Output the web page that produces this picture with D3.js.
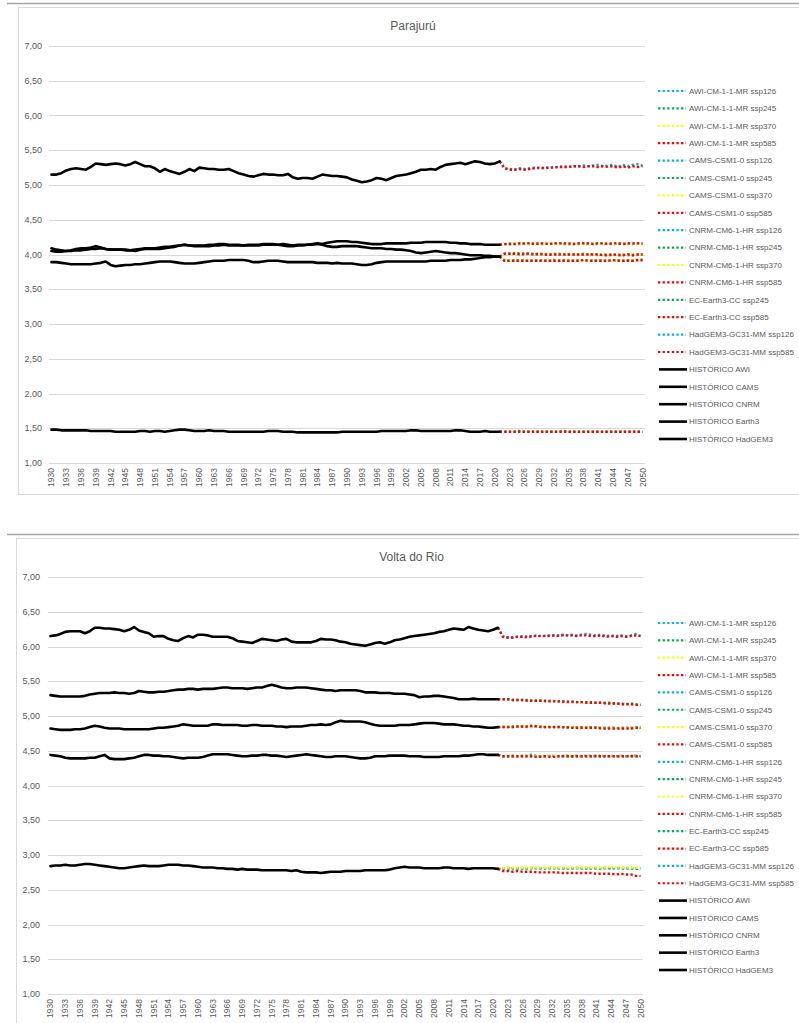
<!DOCTYPE html>
<html>
<head>
<meta charset="utf-8">
<script src="https://cdn.jsdelivr.net/npm/d3@7"></script>
<style>
  body { margin: 0; background: #fff; }
  svg { display: block; }
  text { font-family: "Liberation Sans", Arial, sans-serif; }
</style>
</head>
<body>
<svg id="chart" width="799" height="1023"></svg>
<script>
// ---------- categories & axis ----------
const FIRST_YEAR = 1930, LAST_HIST_YEAR = 2021, LAST_YEAR = 2050;
const years = d3.range(FIRST_YEAR, LAST_YEAR + 1);
const histYears = d3.range(FIRST_YEAR, LAST_HIST_YEAR + 1);
const projYears = d3.range(LAST_HIST_YEAR, LAST_YEAR + 1);
const yTicks = [1.0, 1.5, 2.0, 2.5, 3.0, 3.5, 4.0, 4.5, 5.0, 5.5, 6.0, 6.5, 7.0];
const xTickYears = years.filter((y, i) => i % 3 === 0);

const scenarioColors = { ssp126: "#00B0F0", ssp245: "#00B050", ssp370: "#FFFF00", ssp585: "#FF0000" };

// projected series, in legend order: [model, scenario, key]
const projectionKeys = [
  ["AWI-CM-1-1-MR", "ssp126", "AWI"], ["AWI-CM-1-1-MR", "ssp245", "AWI"],
  ["AWI-CM-1-1-MR", "ssp370", "AWI"], ["AWI-CM-1-1-MR", "ssp585", "AWI"],
  ["CAMS-CSM1-0", "ssp126", "CAMS"], ["CAMS-CSM1-0", "ssp245", "CAMS"],
  ["CAMS-CSM1-0", "ssp370", "CAMS"], ["CAMS-CSM1-0", "ssp585", "CAMS"],
  ["CNRM-CM6-1-HR", "ssp126", "CNRM"], ["CNRM-CM6-1-HR", "ssp245", "CNRM"],
  ["CNRM-CM6-1-HR", "ssp370", "CNRM"], ["CNRM-CM6-1-HR", "ssp585", "CNRM"],
  ["EC-Earth3-CC", "ssp245", "Earth3"], ["EC-Earth3-CC", "ssp585", "Earth3"],
  ["HadGEM3-GC31-MM", "ssp126", "HadGEM3"], ["HadGEM3-GC31-MM", "ssp585", "HadGEM3"]
];
const historicKeys = ["AWI", "CAMS", "CNRM", "Earth3", "HadGEM3"];

// ---------- Parajurú : historical (1930-2021) ----------
const parajuruHistAWI = [
  4.05, 4.04, 4.04, 4.05, 4.05, 4.06, 4.06, 4.07, 4.08, 4.08,
  4.09, 4.08, 4.07, 4.07, 4.07, 4.07, 4.06, 4.07, 4.08, 4.09,
  4.09, 4.09, 4.10, 4.11, 4.11, 4.12, 4.13, 4.14, 4.13, 4.13,
  4.13, 4.13, 4.14, 4.14, 4.15, 4.15, 4.14, 4.14, 4.14, 4.13,
  4.14, 4.14, 4.14, 4.15, 4.15, 4.15, 4.14, 4.13, 4.12, 4.12,
  4.13, 4.13, 4.14, 4.15, 4.16, 4.15, 4.17, 4.18, 4.19, 4.19,
  4.19, 4.18, 4.18, 4.17, 4.16, 4.15, 4.15, 4.15, 4.16, 4.16,
  4.16, 4.16, 4.16, 4.17, 4.17, 4.17, 4.18, 4.18, 4.18, 4.18,
  4.18, 4.17, 4.17, 4.16, 4.16, 4.15, 4.15, 4.15, 4.14, 4.14,
  4.14, 4.14];
const parajuruHistCAMS = [
  4.09, 4.07, 4.06, 4.05, 4.06, 4.08, 4.09, 4.09, 4.10, 4.12,
  4.10, 4.08, 4.07, 4.07, 4.07, 4.06, 4.06, 4.05, 4.07, 4.08,
  4.08, 4.08, 4.08, 4.09, 4.10, 4.11, 4.13, 4.14, 4.13, 4.12,
  4.12, 4.12, 4.12, 4.13, 4.13, 4.14, 4.13, 4.13, 4.13, 4.13,
  4.13, 4.13, 4.13, 4.14, 4.14, 4.14, 4.14, 4.15, 4.14, 4.13,
  4.14, 4.14, 4.14, 4.14, 4.15, 4.14, 4.12, 4.11, 4.11, 4.12,
  4.12, 4.12, 4.12, 4.11, 4.10, 4.09, 4.09, 4.09, 4.08, 4.08,
  4.07, 4.07, 4.06, 4.05, 4.03, 4.02, 4.03, 4.04, 4.05, 4.04,
  4.03, 4.02, 4.02, 4.01, 4.00, 3.99, 3.99, 3.99, 3.98, 3.98,
  3.97, 3.97];
const parajuruHistCNRM = [
  3.89, 3.89, 3.88, 3.87, 3.86, 3.86, 3.86, 3.86, 3.86, 3.87,
  3.88, 3.90, 3.85, 3.83, 3.84, 3.85, 3.85, 3.86, 3.86, 3.87,
  3.88, 3.89, 3.90, 3.90, 3.90, 3.89, 3.88, 3.87, 3.87, 3.87,
  3.88, 3.89, 3.90, 3.91, 3.91, 3.91, 3.92, 3.92, 3.92, 3.92,
  3.91, 3.89, 3.89, 3.90, 3.91, 3.91, 3.91, 3.90, 3.89, 3.89,
  3.89, 3.89, 3.89, 3.89, 3.88, 3.88, 3.88, 3.87, 3.88, 3.87,
  3.87, 3.87, 3.86, 3.85, 3.85, 3.86, 3.88, 3.89, 3.90, 3.90,
  3.90, 3.90, 3.90, 3.90, 3.90, 3.90, 3.90, 3.91, 3.91, 3.91,
  3.91, 3.92, 3.92, 3.92, 3.93, 3.93, 3.94, 3.95, 3.96, 3.96,
  3.97, 3.97];
const parajuruHistEarth3 = [
  1.48, 1.48, 1.47, 1.47, 1.47, 1.47, 1.47, 1.47, 1.46, 1.46,
  1.46, 1.46, 1.46, 1.45, 1.45, 1.45, 1.45, 1.45, 1.46, 1.46,
  1.45, 1.46, 1.46, 1.45, 1.46, 1.47, 1.48, 1.48, 1.47, 1.46,
  1.46, 1.46, 1.47, 1.46, 1.46, 1.46, 1.45, 1.45, 1.45, 1.45,
  1.45, 1.45, 1.45, 1.45, 1.46, 1.46, 1.46, 1.45, 1.45, 1.45,
  1.44, 1.44, 1.44, 1.44, 1.44, 1.44, 1.44, 1.44, 1.44, 1.45,
  1.45, 1.45, 1.45, 1.45, 1.45, 1.45, 1.45, 1.46, 1.46, 1.46,
  1.46, 1.46, 1.46, 1.47, 1.47, 1.46, 1.46, 1.46, 1.46, 1.46,
  1.46, 1.46, 1.47, 1.47, 1.46, 1.45, 1.45, 1.45, 1.46, 1.45,
  1.45, 1.45];
const parajuruHistHadGEM3 = [
  5.15, 5.15, 5.17, 5.21, 5.23, 5.24, 5.23, 5.22, 5.26, 5.31,
  5.30, 5.29, 5.30, 5.31, 5.30, 5.28, 5.30, 5.33, 5.30, 5.27,
  5.27, 5.24, 5.19, 5.23, 5.20, 5.18, 5.16, 5.19, 5.23, 5.20,
  5.25, 5.24, 5.23, 5.23, 5.22, 5.22, 5.23, 5.20, 5.17, 5.15,
  5.13, 5.12, 5.14, 5.16, 5.15, 5.15, 5.14, 5.14, 5.16, 5.11,
  5.09, 5.10, 5.10, 5.09, 5.12, 5.15, 5.14, 5.13, 5.13, 5.12,
  5.11, 5.08, 5.06, 5.04, 5.05, 5.07, 5.10, 5.09, 5.07, 5.10,
  5.13, 5.14, 5.15, 5.17, 5.19, 5.22, 5.22, 5.23, 5.22, 5.26,
  5.29, 5.30, 5.31, 5.32, 5.30, 5.32, 5.34, 5.33, 5.31, 5.30,
  5.31, 5.34];

// ---------- Parajurú : projections (2021-2050) ----------
const parajuruAWI126 = [4.14, 4.15, 4.16, 4.15, 4.15, 4.16, 4.15, 4.16, 4.15, 4.15, 4.16, 4.15, 4.16, 4.15, 4.15, 4.16, 4.15, 4.16, 4.16, 4.15, 4.15, 4.16, 4.15, 4.15, 4.16, 4.15, 4.16, 4.15, 4.16, 4.16];
const parajuruAWI245 = [4.14, 4.15, 4.15, 4.16, 4.16, 4.15, 4.16, 4.16, 4.15, 4.16, 4.15, 4.16, 4.16, 4.16, 4.15, 4.15, 4.16, 4.16, 4.15, 4.16, 4.16, 4.15, 4.16, 4.16, 4.15, 4.16, 4.15, 4.16, 4.16, 4.15];
const parajuruAWI370 = [4.14, 4.16, 4.15, 4.16, 4.16, 4.16, 4.15, 4.16, 4.16, 4.16, 4.16, 4.16, 4.15, 4.16, 4.16, 4.16, 4.16, 4.15, 4.16, 4.16, 4.15, 4.16, 4.16, 4.15, 4.16, 4.16, 4.16, 4.16, 4.15, 4.16];
const parajuruAWI585 = [4.14, 4.15, 4.15, 4.15, 4.16, 4.16, 4.16, 4.15, 4.16, 4.16, 4.15, 4.16, 4.16, 4.16, 4.16, 4.15, 4.16, 4.16, 4.16, 4.15, 4.16, 4.16, 4.15, 4.16, 4.16, 4.15, 4.16, 4.16, 4.16, 4.16];
const parajuruCAMS126 = [3.97, 4.01, 4.01, 4.01, 4.01, 4.00, 4.01, 4.01, 4.00, 4.01, 4.00, 4.00, 4.01, 4.00, 4.00, 4.00, 4.00, 4.01, 4.00, 4.00, 4.00, 4.00, 3.99, 4.00, 3.99, 4.00, 3.99, 4.00, 4.00, 4.00];
const parajuruCAMS245 = [3.97, 4.01, 4.01, 4.01, 4.00, 4.01, 4.01, 4.00, 4.01, 4.00, 4.00, 4.01, 4.00, 4.00, 4.00, 4.00, 4.00, 4.00, 4.00, 4.00, 3.99, 4.00, 4.00, 3.99, 4.00, 3.99, 4.00, 3.99, 4.00, 4.00];
const parajuruCAMS370 = [3.97, 4.01, 4.01, 4.00, 4.01, 4.01, 4.00, 4.01, 4.00, 4.00, 4.01, 4.00, 4.00, 4.00, 4.00, 4.00, 4.00, 4.00, 4.00, 3.99, 4.00, 4.00, 3.99, 4.00, 3.99, 4.00, 3.99, 4.00, 4.00, 4.00];
const parajuruCAMS585 = [3.97, 4.01, 4.01, 4.01, 4.01, 4.01, 4.01, 4.00, 4.01, 4.00, 4.00, 4.00, 4.00, 4.00, 4.00, 4.00, 4.00, 4.00, 4.00, 4.00, 4.00, 3.99, 3.99, 4.00, 3.99, 3.99, 4.00, 3.99, 4.00, 4.00];
const parajuruCNRM126 = [3.97, 3.92, 3.91, 3.91, 3.91, 3.91, 3.91, 3.91, 3.92, 3.91, 3.91, 3.91, 3.91, 3.92, 3.91, 3.91, 3.91, 3.91, 3.91, 3.91, 3.92, 3.91, 3.91, 3.91, 3.91, 3.91, 3.92, 3.91, 3.91, 3.92];
const parajuruCNRM245 = [3.97, 3.91, 3.91, 3.91, 3.91, 3.92, 3.91, 3.91, 3.91, 3.91, 3.91, 3.92, 3.91, 3.91, 3.91, 3.91, 3.91, 3.91, 3.92, 3.91, 3.91, 3.91, 3.91, 3.91, 3.92, 3.91, 3.91, 3.91, 3.92, 3.92];
const parajuruCNRM370 = [3.97, 3.92, 3.92, 3.91, 3.91, 3.91, 3.92, 3.91, 3.91, 3.91, 3.92, 3.91, 3.91, 3.91, 3.92, 3.92, 3.91, 3.91, 3.91, 3.92, 3.91, 3.92, 3.92, 3.91, 3.91, 3.92, 3.91, 3.92, 3.91, 3.92];
const parajuruCNRM585 = [3.97, 3.91, 3.91, 3.91, 3.91, 3.91, 3.91, 3.91, 3.91, 3.91, 3.91, 3.91, 3.91, 3.91, 3.91, 3.91, 3.91, 3.92, 3.91, 3.91, 3.91, 3.91, 3.91, 3.92, 3.91, 3.91, 3.91, 3.91, 3.92, 3.92];
const parajuruEarth3245 = [1.45, 1.45, 1.45, 1.45, 1.46, 1.45, 1.45, 1.45, 1.45, 1.45, 1.45, 1.45, 1.45, 1.46, 1.45, 1.45, 1.45, 1.45, 1.45, 1.45, 1.45, 1.45, 1.45, 1.45, 1.45, 1.45, 1.45, 1.45, 1.45, 1.45];
const parajuruEarth3585 = [1.45, 1.45, 1.45, 1.45, 1.45, 1.45, 1.45, 1.45, 1.45, 1.45, 1.45, 1.45, 1.45, 1.45, 1.45, 1.45, 1.45, 1.45, 1.45, 1.45, 1.45, 1.45, 1.45, 1.45, 1.45, 1.45, 1.45, 1.45, 1.45, 1.45];
const parajuruHadGEM3126 = [5.34, 5.24, 5.23, 5.22, 5.24, 5.23, 5.24, 5.25, 5.24, 5.25, 5.25, 5.26, 5.26, 5.27, 5.26, 5.27, 5.27, 5.28, 5.27, 5.28, 5.29, 5.27, 5.28, 5.29, 5.26, 5.29, 5.27, 5.29, 5.30, 5.28];
const parajuruHadGEM3585 = [5.34, 5.24, 5.22, 5.22, 5.23, 5.22, 5.23, 5.24, 5.25, 5.24, 5.25, 5.25, 5.26, 5.26, 5.26, 5.27, 5.27, 5.26, 5.27, 5.27, 5.26, 5.27, 5.26, 5.27, 5.25, 5.27, 5.25, 5.27, 5.26, 5.27];

// ---------- Volta do Rio : historical (1930-2021) ----------
const voltaHistAWI = [
  4.82, 4.81, 4.80, 4.80, 4.80, 4.81, 4.81, 4.82, 4.84, 4.86,
  4.85, 4.83, 4.82, 4.82, 4.82, 4.81, 4.81, 4.81, 4.81, 4.81,
  4.81, 4.82, 4.83, 4.83, 4.84, 4.85, 4.86, 4.88, 4.87, 4.86,
  4.86, 4.86, 4.86, 4.88, 4.88, 4.87, 4.87, 4.87, 4.87, 4.86,
  4.86, 4.87, 4.87, 4.86, 4.86, 4.86, 4.85, 4.85, 4.84, 4.85,
  4.85, 4.85, 4.86, 4.87, 4.87, 4.88, 4.87, 4.88, 4.91, 4.93,
  4.92, 4.92, 4.92, 4.92, 4.91, 4.89, 4.87, 4.86, 4.86, 4.86,
  4.86, 4.87, 4.87, 4.87, 4.88, 4.89, 4.90, 4.90, 4.90, 4.89,
  4.88, 4.88, 4.88, 4.87, 4.86, 4.86, 4.85, 4.85, 4.84, 4.83,
  4.83, 4.84];
const voltaHistCAMS = [
  2.84, 2.85, 2.85, 2.86, 2.85, 2.85, 2.86, 2.87, 2.87, 2.86,
  2.85, 2.84, 2.83, 2.82, 2.81, 2.81, 2.82, 2.83, 2.84, 2.85,
  2.84, 2.84, 2.84, 2.85, 2.86, 2.86, 2.86, 2.85, 2.85, 2.84,
  2.83, 2.82, 2.82, 2.82, 2.81, 2.81, 2.80, 2.80, 2.79, 2.80,
  2.79, 2.79, 2.79, 2.78, 2.78, 2.78, 2.78, 2.78, 2.78, 2.77,
  2.78, 2.76, 2.75, 2.75, 2.75, 2.74, 2.75, 2.76, 2.76, 2.76,
  2.77, 2.77, 2.77, 2.77, 2.78, 2.78, 2.78, 2.78, 2.78, 2.79,
  2.81, 2.82, 2.83, 2.82, 2.82, 2.82, 2.81, 2.81, 2.81, 2.81,
  2.82, 2.82, 2.81, 2.81, 2.81, 2.80, 2.81, 2.81, 2.81, 2.81,
  2.81, 2.80];
const voltaHistCNRM = [
  4.44, 4.43, 4.42, 4.40, 4.39, 4.39, 4.39, 4.39, 4.40, 4.40,
  4.42, 4.44, 4.39, 4.38, 4.38, 4.38, 4.39, 4.40, 4.42, 4.44,
  4.44, 4.43, 4.43, 4.42, 4.42, 4.41, 4.40, 4.39, 4.40, 4.40,
  4.40, 4.41, 4.43, 4.45, 4.45, 4.45, 4.45, 4.44, 4.43, 4.42,
  4.42, 4.43, 4.43, 4.44, 4.44, 4.43, 4.43, 4.42, 4.41, 4.42,
  4.43, 4.44, 4.45, 4.44, 4.43, 4.42, 4.41, 4.41, 4.42, 4.42,
  4.42, 4.41, 4.40, 4.39, 4.39, 4.40, 4.42, 4.42, 4.42, 4.43,
  4.43, 4.43, 4.43, 4.42, 4.42, 4.42, 4.41, 4.41, 4.41, 4.41,
  4.42, 4.42, 4.42, 4.42, 4.43, 4.43, 4.44, 4.45, 4.45, 4.44,
  4.44, 4.44];
const voltaHistEarth3 = [
  5.30, 5.29, 5.28, 5.28, 5.28, 5.28, 5.28, 5.29, 5.31, 5.32,
  5.33, 5.33, 5.33, 5.34, 5.33, 5.33, 5.32, 5.33, 5.36, 5.35,
  5.34, 5.34, 5.35, 5.35, 5.36, 5.37, 5.38, 5.38, 5.39, 5.39,
  5.38, 5.39, 5.39, 5.39, 5.40, 5.41, 5.41, 5.40, 5.40, 5.40,
  5.39, 5.40, 5.41, 5.41, 5.43, 5.45, 5.43, 5.41, 5.40, 5.40,
  5.41, 5.41, 5.41, 5.40, 5.39, 5.38, 5.37, 5.37, 5.36, 5.37,
  5.37, 5.37, 5.37, 5.36, 5.34, 5.34, 5.34, 5.33, 5.33, 5.33,
  5.32, 5.32, 5.32, 5.31, 5.30, 5.27, 5.28, 5.28, 5.29, 5.29,
  5.28, 5.27, 5.26, 5.24, 5.24, 5.24, 5.25, 5.24, 5.24, 5.24,
  5.24, 5.24];
const voltaHistHadGEM3 = [
  6.15, 6.16, 6.18, 6.21, 6.22, 6.22, 6.22, 6.19, 6.22, 6.27,
  6.27, 6.26, 6.26, 6.25, 6.24, 6.22, 6.24, 6.28, 6.23, 6.21,
  6.19, 6.14, 6.15, 6.15, 6.11, 6.09, 6.08, 6.12, 6.15, 6.13,
  6.17, 6.17, 6.16, 6.14, 6.14, 6.14, 6.14, 6.12, 6.08, 6.07,
  6.06, 6.05, 6.08, 6.11, 6.10, 6.09, 6.08, 6.10, 6.11, 6.07,
  6.06, 6.06, 6.06, 6.06, 6.08, 6.11, 6.10, 6.10, 6.09, 6.07,
  6.06, 6.04, 6.03, 6.02, 6.01, 6.03, 6.05, 6.06, 6.04, 6.06,
  6.09, 6.10, 6.12, 6.14, 6.15, 6.16, 6.17, 6.18, 6.19, 6.21,
  6.22, 6.24, 6.26, 6.25, 6.24, 6.28, 6.26, 6.24, 6.23, 6.22,
  6.24, 6.27];

// ---------- Volta do Rio : projections (2021-2050) ----------
const voltaAWI126 = [4.84, 4.84, 4.85, 4.84, 4.85, 4.85, 4.84, 4.85, 4.85, 4.84, 4.84, 4.84, 4.85, 4.84, 4.84, 4.84, 4.83, 4.84, 4.84, 4.83, 4.84, 4.83, 4.83, 4.83, 4.82, 4.83, 4.83, 4.83, 4.83, 4.83];
const voltaAWI245 = [4.84, 4.85, 4.84, 4.85, 4.85, 4.85, 4.85, 4.84, 4.85, 4.84, 4.85, 4.84, 4.84, 4.84, 4.83, 4.84, 4.84, 4.83, 4.83, 4.84, 4.83, 4.83, 4.82, 4.83, 4.83, 4.82, 4.83, 4.82, 4.83, 4.83];
const voltaAWI370 = [4.84, 4.85, 4.85, 4.84, 4.85, 4.86, 4.85, 4.85, 4.85, 4.85, 4.85, 4.84, 4.84, 4.84, 4.84, 4.84, 4.84, 4.83, 4.84, 4.83, 4.83, 4.83, 4.82, 4.83, 4.82, 4.82, 4.83, 4.82, 4.83, 4.83];
const voltaAWI585 = [4.84, 4.84, 4.84, 4.84, 4.85, 4.85, 4.85, 4.86, 4.85, 4.84, 4.84, 4.84, 4.84, 4.84, 4.84, 4.83, 4.83, 4.83, 4.83, 4.83, 4.83, 4.82, 4.82, 4.82, 4.82, 4.82, 4.82, 4.82, 4.83, 4.83];
const voltaCAMS126 = [2.80, 2.81, 2.81, 2.81, 2.81, 2.81, 2.81, 2.82, 2.81, 2.81, 2.81, 2.82, 2.81, 2.81, 2.81, 2.81, 2.82, 2.81, 2.81, 2.81, 2.81, 2.81, 2.82, 2.81, 2.81, 2.81, 2.81, 2.81, 2.81, 2.81];
const voltaCAMS245 = [2.80, 2.80, 2.81, 2.81, 2.81, 2.81, 2.81, 2.81, 2.81, 2.81, 2.81, 2.81, 2.81, 2.81, 2.81, 2.81, 2.81, 2.81, 2.81, 2.81, 2.81, 2.81, 2.81, 2.81, 2.82, 2.81, 2.81, 2.81, 2.80, 2.80];
const voltaCAMS370 = [2.80, 2.81, 2.82, 2.82, 2.82, 2.82, 2.82, 2.82, 2.82, 2.82, 2.82, 2.82, 2.82, 2.82, 2.82, 2.82, 2.82, 2.82, 2.82, 2.82, 2.82, 2.82, 2.82, 2.83, 2.82, 2.82, 2.82, 2.82, 2.82, 2.81];
const voltaCAMS585 = [2.80, 2.77, 2.77, 2.76, 2.77, 2.76, 2.76, 2.76, 2.75, 2.75, 2.75, 2.75, 2.75, 2.74, 2.74, 2.74, 2.74, 2.74, 2.74, 2.74, 2.73, 2.73, 2.73, 2.73, 2.72, 2.73, 2.72, 2.72, 2.70, 2.70];
const voltaCNRM126 = [4.44, 4.42, 4.42, 4.43, 4.42, 4.42, 4.43, 4.45, 4.42, 4.42, 4.42, 4.43, 4.42, 4.42, 4.43, 4.42, 4.43, 4.42, 4.43, 4.43, 4.42, 4.43, 4.42, 4.43, 4.42, 4.43, 4.42, 4.42, 4.43, 4.42];
const voltaCNRM245 = [4.44, 4.42, 4.42, 4.42, 4.42, 4.43, 4.42, 4.42, 4.42, 4.42, 4.42, 4.42, 4.42, 4.43, 4.42, 4.42, 4.42, 4.42, 4.42, 4.42, 4.43, 4.42, 4.42, 4.42, 4.42, 4.42, 4.42, 4.43, 4.42, 4.42];
const voltaCNRM370 = [4.44, 4.42, 4.43, 4.42, 4.42, 4.42, 4.42, 4.42, 4.43, 4.42, 4.42, 4.42, 4.42, 4.42, 4.42, 4.43, 4.42, 4.42, 4.42, 4.42, 4.42, 4.42, 4.43, 4.42, 4.42, 4.42, 4.42, 4.42, 4.42, 4.43];
const voltaCNRM585 = [4.44, 4.42, 4.42, 4.42, 4.42, 4.42, 4.42, 4.42, 4.41, 4.42, 4.42, 4.41, 4.42, 4.42, 4.42, 4.42, 4.42, 4.42, 4.42, 4.42, 4.42, 4.42, 4.42, 4.42, 4.42, 4.42, 4.42, 4.42, 4.42, 4.42];
const voltaEarth3245 = [5.24, 5.24, 5.24, 5.23, 5.23, 5.23, 5.23, 5.22, 5.22, 5.22, 5.22, 5.22, 5.21, 5.21, 5.21, 5.21, 5.20, 5.20, 5.20, 5.20, 5.19, 5.19, 5.19, 5.19, 5.18, 5.18, 5.17, 5.18, 5.17, 5.16];
const voltaEarth3585 = [5.24, 5.24, 5.24, 5.23, 5.23, 5.23, 5.22, 5.22, 5.22, 5.22, 5.21, 5.21, 5.21, 5.21, 5.20, 5.20, 5.20, 5.20, 5.19, 5.19, 5.19, 5.19, 5.18, 5.18, 5.18, 5.17, 5.17, 5.17, 5.16, 5.16];
const voltaHadGEM3126 = [6.27, 6.15, 6.13, 6.13, 6.14, 6.14, 6.15, 6.15, 6.16, 6.15, 6.16, 6.16, 6.16, 6.17, 6.16, 6.17, 6.16, 6.17, 6.18, 6.17, 6.16, 6.17, 6.15, 6.16, 6.15, 6.16, 6.15, 6.16, 6.18, 6.15];
const voltaHadGEM3585 = [6.27, 6.14, 6.13, 6.13, 6.14, 6.14, 6.13, 6.15, 6.15, 6.15, 6.15, 6.16, 6.15, 6.16, 6.16, 6.16, 6.15, 6.16, 6.16, 6.15, 6.15, 6.16, 6.14, 6.15, 6.14, 6.15, 6.14, 6.15, 6.16, 6.15];

// ---------- panel tables ----------
const panels = [
  {
    title: "Parajurú",
    hist: [parajuruHistAWI, parajuruHistCAMS, parajuruHistCNRM, parajuruHistEarth3, parajuruHistHadGEM3],
    proj: [parajuruAWI126, parajuruAWI245, parajuruAWI370, parajuruAWI585,
           parajuruCAMS126, parajuruCAMS245, parajuruCAMS370, parajuruCAMS585,
           parajuruCNRM126, parajuruCNRM245, parajuruCNRM370, parajuruCNRM585,
           parajuruEarth3245, parajuruEarth3585, parajuruHadGEM3126, parajuruHadGEM3585],
    sepY: 3.5, sepX: 7, frame: { x: 18, y: 7, w: 800, h: 487 },
    plot: { left: 49, right: 645, top: 46, bottom: 463 },
    titleY: 30, yLabelX: 42, legend: { x: 658, y: 91, step: 17.4 }
  },
  {
    title: "Volta do Rio",
    hist: [voltaHistAWI, voltaHistCAMS, voltaHistCNRM, voltaHistEarth3, voltaHistHadGEM3],
    proj: [voltaAWI126, voltaAWI245, voltaAWI370, voltaAWI585,
           voltaCAMS126, voltaCAMS245, voltaCAMS370, voltaCAMS585,
           voltaCNRM126, voltaCNRM245, voltaCNRM370, voltaCNRM585,
           voltaEarth3245, voltaEarth3585, voltaHadGEM3126, voltaHadGEM3585],
    sepY: 534.5, sepX: 7, frame: { x: 16, y: 538, w: 800, h: 500 },
    plot: { left: 48, right: 643, top: 577, bottom: 994 },
    titleY: 561, yLabelX: 40, legend: { x: 658, y: 623, step: 17.35 }
  }
];

const svg = d3.select("#chart");
const fmt = d3.formatLocale({ decimal: ",", thousands: ".", grouping: [3], currency: ["", ""] }).format(".2f");
const textColor = "#595959";

panels.forEach(p => {
  const g = svg.append("g");

  // separator and chart-area frame
  g.append("line").attr("x1", p.sepX).attr("x2", 799).attr("y1", p.sepY).attr("y2", p.sepY)
    .attr("stroke", "#a6a6a6").attr("stroke-width", 1.5);
  g.append("rect").attr("x", p.frame.x + 0.5).attr("y", p.frame.y + 0.5)
    .attr("width", p.frame.w).attr("height", p.frame.h)
    .attr("fill", "none").attr("stroke", "#d9d9d9").attr("stroke-width", 1);

  const x = d3.scaleBand().domain(years).range([p.plot.left, p.plot.right]);
  const cx = yr => x(yr) + x.bandwidth() / 2;
  const y = d3.scaleLinear().domain([1, 7]).range([p.plot.bottom, p.plot.top]);

  // title
  g.append("text").attr("x", (p.plot.left + p.plot.right) / 2 + 66).attr("y", p.titleY)
    .attr("text-anchor", "middle").attr("font-size", 12).attr("fill", textColor).text(p.title);

  // gridlines + y labels
  g.append("g").selectAll("line").data(yTicks).join("line")
    .attr("x1", p.plot.left).attr("x2", p.plot.right)
    .attr("y1", d => Math.round(y(d)) + 0.5).attr("y2", d => Math.round(y(d)) + 0.5)
    .attr("stroke", "#d9d9d9").attr("stroke-width", 1);
  g.append("g").selectAll("text").data(yTicks).join("text")
    .attr("x", p.yLabelX).attr("y", d => y(d)).attr("dy", "0.35em")
    .attr("text-anchor", "end").attr("font-size", 9).attr("fill", textColor)
    .text(d => fmt(d));

  // rotated year labels
  g.append("g").selectAll("text").data(xTickYears).join("text")
    .attr("transform", d => `translate(${cx(d)},${p.plot.bottom + 5}) rotate(-90)`)
    .attr("text-anchor", "end").attr("dy", "0.35em")
    .attr("font-size", 8.5).attr("fill", textColor).text(d => d);

  const line = d3.line().x(d => cx(d[0])).y(d => y(d[1]));

  // dotted scenario projections
  projectionKeys.forEach((k, i) => {
    const pts = projYears.map((yr, j) => [yr, p.proj[i][j]]);
    g.append("path").attr("d", line(pts)).attr("fill", "none")
      .attr("stroke", scenarioColors[k[1]]).attr("stroke-width", 2.4)
      .attr("stroke-dasharray", "2.3,2.3");
  });

  // historical series
  historicKeys.forEach((k, i) => {
    const pts = histYears.map((yr, j) => [yr, p.hist[i][j]]);
    g.append("path").attr("d", line(pts)).attr("fill", "none")
      .attr("stroke", "#000").attr("stroke-width", 2.6)
      .attr("stroke-linejoin", "round").attr("stroke-linecap", "round");
  });

  // legend
  const lg = g.append("g");
  projectionKeys.forEach((k, i) => {
    const ry = p.legend.y + i * p.legend.step;
    lg.append("line").attr("x1", p.legend.x).attr("x2", p.legend.x + 28)
      .attr("y1", ry).attr("y2", ry).attr("stroke", scenarioColors[k[1]])
      .attr("stroke-width", 2.2).attr("stroke-dasharray", "2.3,2.3");
    lg.append("text").attr("x", p.legend.x + 31).attr("y", ry).attr("dy", "0.35em")
      .attr("font-size", 8).attr("fill", textColor).text(`${k[0]} ${k[1]}`);
  });
  historicKeys.forEach((k, i) => {
    const ry = p.legend.y + (projectionKeys.length + i) * p.legend.step;
    lg.append("line").attr("x1", p.legend.x + 1).attr("x2", p.legend.x + 29)
      .attr("y1", ry).attr("y2", ry).attr("stroke", "#000").attr("stroke-width", 2.6);
    lg.append("text").attr("x", p.legend.x + 31).attr("y", ry).attr("dy", "0.35em")
      .attr("font-size", 8).attr("fill", textColor).text(`HISTÓRICO ${k}`);
  });
});
</script>
</body>
</html>
